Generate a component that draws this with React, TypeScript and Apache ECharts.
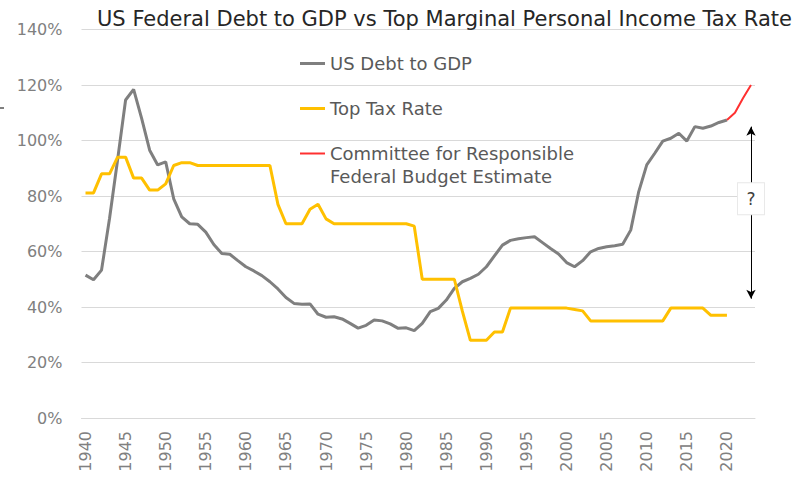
import React, { useEffect, useRef } from "react";
import * as echarts from "echarts";

const years = [
  "1940", "1941", "1942", "1943", "1944", "1945", "1946", "1947", "1948", "1949",
  "1950", "1951", "1952", "1953", "1954", "1955", "1956", "1957", "1958", "1959",
  "1960", "1961", "1962", "1963", "1964", "1965", "1966", "1967", "1968", "1969",
  "1970", "1971", "1972", "1973", "1974", "1975", "1976", "1977", "1978", "1979",
  "1980", "1981", "1982", "1983", "1984", "1985", "1986", "1987", "1988", "1989",
  "1990", "1991", "1992", "1993", "1994", "1995", "1996", "1997", "1998", "1999",
  "2000", "2001", "2002", "2003", "2004", "2005", "2006", "2007", "2008", "2009",
  "2010", "2011", "2012", "2013", "2014", "2015", "2016", "2017", "2018", "2019",
  "2020", "2021", "2022", "2023",
];

// US Federal Debt to GDP (%), 1940-2020
const debtToGdp = [
  51.5, 49.8, 53.3, 72, 93, 114.6, 118.4, 108, 96.5, 91.2,
  92.3, 79, 72.5, 70, 69.8, 67, 62.5, 59.3, 59, 56.7,
  54.5, 53, 51.3, 49.1, 46.5, 43.4, 41.3, 41, 41.1, 37.4,
  36.3, 36.5, 35.7, 34.1, 32.4, 33.4, 35.3, 35, 33.9, 32.3,
  32.5, 31.5, 34.1, 38.3, 39.5, 42.5, 46.7, 49.1, 50.3, 51.8,
  54.5, 58.4, 62.3, 64, 64.6, 65, 65.3, 63.2, 61.1, 59.1,
  56, 54.5, 56.7, 59.9, 61.1, 61.7, 62.1, 62.6, 67.7, 81.6,
  91.2, 95.4, 99.8, 100.8, 102.6, 99.8, 105, 104.4, 105.2, 106.5,
  107.4,
];

// Top marginal personal income tax rate (%), 1940-2020
const topTaxRate = [
  81.1, 81.1, 88, 88, 94, 94, 86.45, 86.45, 82.13, 82.13,
  84.36, 91, 92, 92, 91, 91, 91, 91, 91, 91,
  91, 91, 91, 91, 77, 70, 70, 70, 75.25, 77,
  71.75, 70, 70, 70, 70, 70, 70, 70, 70, 70,
  70, 69.13, 50, 50, 50, 50, 50, 38.5, 28, 28,
  28, 31, 31, 39.6, 39.6, 39.6, 39.6, 39.6, 39.6, 39.6,
  39.6, 39.1, 38.6, 35, 35, 35, 35, 35, 35, 35,
  35, 35, 35, 39.6, 39.6, 39.6, 39.6, 39.6, 37, 37,
  37,
];

// Committee for Responsible Federal Budget estimate (%), 2020-2023
const crfbYears = ["2020", "2021", "2022", "2023"];
const crfbValues = [107.4, 110, 115.2, 120];

// Annotation: range marked by the double arrow and its "?" box
const arrowYear = "2023";
const arrowTop = 105;
const arrowBottom = 43;
const questionAt = 79;

const yTicks = { min: 0, max: 140, interval: 20 };

const FONT = "DejaVu Sans";
const CRFB_NAME = "Committee for Responsible\nFederal Budget Estimate";

export default function App() {
  const ref = useRef<HTMLDivElement>(null);

  useEffect(() => {
    if (!ref.current) return;
    const chart = echarts.init(ref.current, undefined, { renderer: "svg" });

    const crfbSeries = years.map((y) => {
      const i = crfbYears.indexOf(y);
      return i >= 0 ? crfbValues[i] : null;
    });

    const legendText = { color: "#595959", fontSize: 18, fontFamily: FONT, lineHeight: 23 };
    const legendBase = {
      left: 300,
      padding: 0,
      icon: "rect",
      itemWidth: 25,
      itemHeight: 3,
      selectedMode: false,
      textStyle: legendText,
    };

    chart.setOption({
      animation: false,
      textStyle: { fontFamily: FONT },
      title: {
        text: "US Federal Debt to GDP vs Top Marginal Personal Income Tax Rate",
        left: 97,
        top: 8,
        padding: 0,
        textStyle: { fontSize: 21, fontWeight: "normal", color: "#262626", fontFamily: FONT },
      },
      legend: [
        { ...legendBase, data: ["US Debt to GDP"], top: 52 },
        { ...legendBase, data: ["Top Tax Rate"], top: 97 },
        {
          ...legendBase,
          data: [CRFB_NAME],
          top: 119,
          itemHeight: 2,
          formatter: (name: string) => "\u00a0\n" + name,
        },
      ],
      grid: { left: 81.5, right: 49, top: 29.5, bottom: 61, containLabel: false },
      xAxis: {
        type: "category",
        data: years,
        boundaryGap: true,
        axisLine: { lineStyle: { color: "#d9d9d9", width: 1 } },
        axisTick: { show: false },
        axisLabel: {
          interval: 4,
          rotate: 90,
          margin: 13,
          color: "#808080",
          fontSize: 16,
          fontFamily: FONT,
        },
      },
      yAxis: {
        type: "value",
        min: yTicks.min,
        max: yTicks.max,
        interval: yTicks.interval,
        axisLine: { show: false },
        axisTick: { show: false },
        splitLine: { lineStyle: { color: "#d9d9d9", width: 1 } },
        axisLabel: {
          formatter: "{value}%",
          margin: 19,
          color: "#808080",
          fontSize: 16,
          fontFamily: FONT,
        },
      },
      series: [
        {
          name: "US Debt to GDP",
          type: "line",
          data: debtToGdp,
          showSymbol: false,
          symbol: "none",
          lineStyle: { color: "#7f7f7f", width: 3 },
          itemStyle: { color: "#7f7f7f" },
          emphasis: { disabled: true },
          silent: true,
        },
        {
          name: "Top Tax Rate",
          type: "line",
          data: topTaxRate,
          showSymbol: false,
          symbol: "none",
          lineStyle: { color: "#FFC000", width: 3 },
          itemStyle: { color: "#FFC000" },
          emphasis: { disabled: true },
          silent: true,
        },
        {
          name: CRFB_NAME,
          type: "line",
          data: crfbSeries,
          showSymbol: false,
          symbol: "none",
          connectNulls: false,
          lineStyle: { color: "#FF3030", width: 2 },
          itemStyle: { color: "#FF3030" },
          emphasis: { disabled: true },
          silent: true,
          markLine: {
            silent: true,
            z: 5,
            symbol: ["arrow", "arrow"],
            symbolSize: [7, 9],
            label: { show: false },
            lineStyle: { color: "#000000", width: 1, type: "solid" },
            data: [[{ coord: [arrowYear, arrowTop] }, { coord: [arrowYear, arrowBottom] }]],
          },
          markPoint: {
            silent: true,
            z: 10,
            symbol: "rect",
            symbolSize: [27, 32],
            itemStyle: { color: "#ffffff", borderColor: "#e8e8e8", borderWidth: 1 },
            label: {
              show: true,
              position: "inside",
              formatter: "?",
              color: "#404040",
              fontSize: 17,
              fontFamily: FONT,
            },
            data: [{ coord: [arrowYear, questionAt] }],
          },
        },
      ],
      graphic: [
        {
          type: "line",
          shape: { x1: 0, y1: 108, x2: 4, y2: 108 },
          style: { stroke: "#000000", lineWidth: 1 },
          silent: true,
        },
      ],
    });

    return () => chart.dispose();
  }, []);

  return (
    <div
      ref={ref}
      style={{ position: "fixed", left: 0, top: 0, width: 804, height: 479, background: "#ffffff" }}
    />
  );
}
